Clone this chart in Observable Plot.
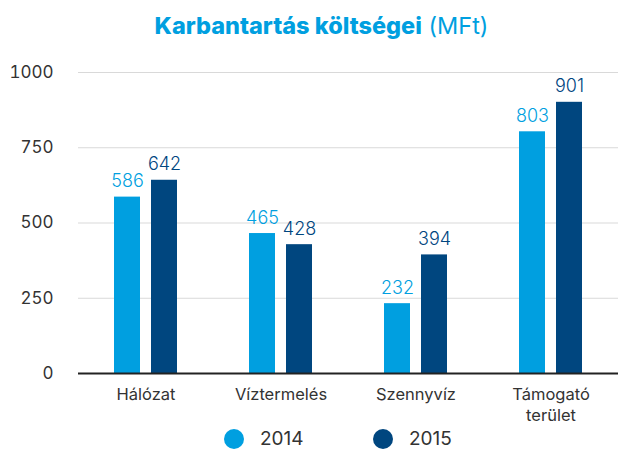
<!DOCTYPE html>
<html>
<head>
<meta charset="utf-8">
<script src="https://cdn.jsdelivr.net/npm/d3@7"></script>
<script src="https://cdn.jsdelivr.net/npm/@observablehq/plot@0.6"></script>
<style>
  body { margin: 0; background: #fff; font-family: Inter, "Noto Sans", sans-serif; }
  #wrap { position: relative; width: 619px; height: 450px; overflow: hidden; }
  #title { position: absolute; top: 11px; left: 12px; width: 619px; text-align: center; font-size: 23.5px; color: #009fe0; line-height: 30px; }
  #title b { font-weight: 800; }
  #title span { font-weight: 400; }
  #chart { position: absolute; top: 50px; left: 0; }
  .leg { position: absolute; top: 429px; display: flex; align-items: center; font-size: 19px; color: #333; line-height: 20px; height: 20px; }
  .dot { width: 20px; height: 20px; border-radius: 50%; margin-right: 16px; }
</style>
</head>
<body>
<div id="wrap">
  <div id="title"><b>Karbantartás költségei</b> <span>(MFt)</span></div>
  <div id="chart"></div>
  <div class="leg" style="left:224px"><span class="dot" style="background:#009fe0"></span>2014</div>
  <div class="leg" style="left:373px"><span class="dot" style="background:#00467f"></span>2015</div>
</div>
<script>
const categories = ["Hálózat", "Víztermelés", "Szennyvíz", "Támogató\nterület"];
const years = ["2014", "2015"];
const values2014 = [586, 465, 232, 803];
const values2015 = [642, 428, 394, 901];
const yTicks = [0, 250, 500, 750, 1000];
const colors = ["#009fe0", "#00467f"];

const data = [];
categories.forEach((c, i) => {
  data.push({category: c, year: years[0], value: values2014[i]});
  data.push({category: c, year: years[1], value: values2015[i]});
});

const chart = Plot.plot({
  width: 619,
  height: 378,
  marginTop: 22,
  marginBottom: 55,
  marginLeft: 77,
  marginRight: 0,
  style: {fontFamily: "Inter, 'Noto Sans', sans-serif", fontSize: "15px", color: "#333", background: "transparent"},
  fx: {domain: categories, padding: 0, label: null},
  x: {domain: years, paddingInner: 0.3, paddingOuter: 0.95, axis: null},
  y: {domain: [0, 1000], axis: null},
  color: {domain: years, range: colors},
  marks: [
    Plot.gridY(yTicks, {stroke: "#d9d9d9", strokeOpacity: 1, strokeWidth: 1}),
    Plot.axisY(yTicks, {tickSize: 0, tickPadding: 25, label: null, fontSize: 17, fill: "#333", tickFormat: d => String(d)}),
    Plot.axisFx({anchor: "bottom", tickSize: 0, tickPadding: 11, label: null, fontSize: 16.5, fill: "#333", lineHeight: 1.3}),
    Plot.barY(data, {fx: "category", x: "year", y: "value", fill: "year"}),
    Plot.ruleY([0], {stroke: "#222", strokeWidth: 2}),
    Plot.text(data, {fx: "category", x: "year", y: "value", text: d => String(d.value), fill: "year", dy: -10, lineAnchor: "bottom", fontSize: 18, fontWeight: 300})
  ]
});
document.getElementById("chart").appendChild(chart);
</script>
</body>
</html>
